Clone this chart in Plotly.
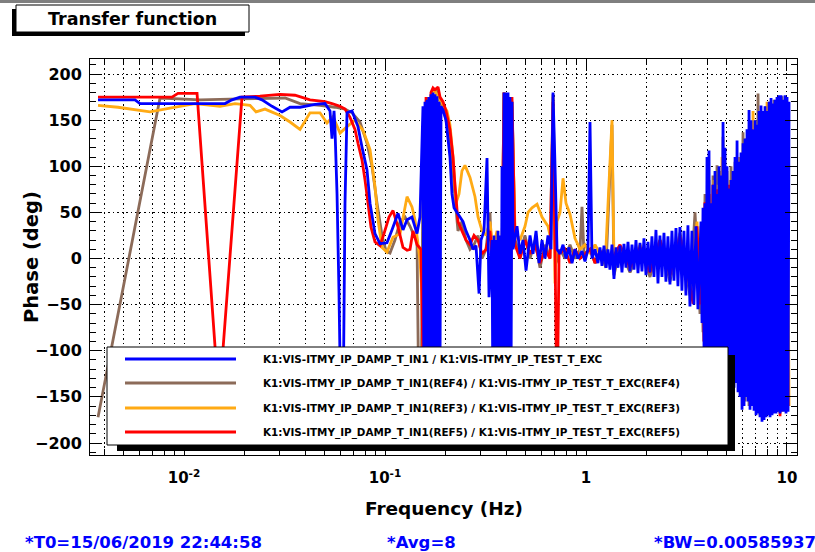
import plotly.graph_objects as go

# ---------------- data ----------------
BLUE_FREQ = [
    0.003734, 0.005705, 0.006041, 0.01201, 0.01600, 0.01733, 0.01899, 0.02255, 0.02444, 0.02741,
    0.03074, 0.03369, 0.03777, 0.04484, 0.05029, 0.05326, 0.05449, 0.05577, 0.05640, 0.05772,
    0.05904, 0.06041, 0.06181, 0.06324, 0.06471, 0.06853, 0.07338, 0.07682, 0.08138, 0.08423,
    0.08918, 0.09443, 0.1023, 0.1083, 0.1161, 0.1229, 0.1287, 0.1362, 0.1443, 0.1493,
    0.1545, 0.1564, 0.1581, 0.1600, 0.1618, 0.1636, 0.1655, 0.1674, 0.1693, 0.1713,
    0.1733, 0.1753, 0.1773, 0.1794, 0.1814, 0.1836, 0.1857, 0.1878, 0.1900,
    0.1943, 0.2011, 0.2057, 0.2105, 0.2154, 0.2205, 0.2282,
    0.2361, 0.2444, 0.2529, 0.2648, 0.2741, 0.2836, 0.2937, 0.3004, 0.3109, 0.3218,
    0.3292, 0.3407,
    0.3447, 0.3486, 0.3526, 0.3567, 0.3608, 0.3650, 0.3692, 0.3734, 0.3777, 0.3821,
    0.3865, 0.3910, 0.3954, 0.4000, 0.4046, 0.4093, 0.4140, 0.4187, 0.4236, 0.4284,
    0.4334, 0.4537, 0.4697, 0.4861, 0.5031, 0.5266, 0.5450, 0.5643,
    0.5840, 0.6041, 0.6253, 0.6471, 0.6699, 0.6854, 0.7013, 0.7176, 0.7427, 0.7686,
    0.7953, 0.8231, 0.8519, 0.8816, 0.9125, 0.9552, 0.9886, 1.023, 1.047, 1.071,
    1.109, 1.147,
    1.174, 1.201, 1.229, 1.258, 1.287, 1.316, 1.347, 1.378, 1.410, 1.443,
    1.476, 1.510, 1.545, 1.581, 1.618, 1.655, 1.694, 1.733, 1.773, 1.814,
    1.856, 1.899, 1.943, 1.988, 2.034, 2.081, 2.129, 2.179, 2.229, 2.281,
    2.333, 2.388, 2.443, 2.499, 2.557, 2.617, 2.677, 2.739, 2.803, 2.867,
    2.934, 3.002, 3.071, 3.142, 3.215, 3.290, 3.366, 3.444, 3.524, 3.605,
    3.735, 3.778, 3.821, 3.865, 3.910, 3.955, 4.000, 4.046, 4.093, 4.140,
    4.188, 4.236, 4.285, 4.334, 4.384, 4.435, 4.486, 4.538, 4.590, 4.643,
    4.697, 4.751, 4.806, 4.861, 4.917, 4.974, 5.031, 5.089, 5.148, 5.207,
    5.267, 5.328, 5.389, 5.452, 5.515, 5.578, 5.643, 5.708, 5.774, 5.840,
    5.907, 5.975, 6.044, 6.114, 6.184, 6.255, 6.327, 6.400, 6.474, 6.549,
    6.624, 6.700, 6.778, 6.856, 6.935, 7.015, 7.095, 7.177, 7.260, 7.343,
    7.428, 7.513, 7.600, 7.687, 7.776, 7.866, 7.956, 8.048, 8.141, 8.235,
    8.329, 8.425, 8.522, 8.621, 8.720, 8.820, 8.922, 9.025, 9.129, 9.234,
    9.340, 9.448, 9.557, 9.667, 9.778, 9.891, 10.005, 10.120, 10.237,
]
BLUE_PHASE = [
    172, 172, 168, 168, 168, 172, 175, 175, 172, 165,
    159, 164, 164, 167, 168, 160, 130, 160, 140, 70,
    -38, -178, -178, 60, 158, 160, 143, 121, 96, 60,
    27, 16, 17, 31, 49, 31, 42, 45, 27, 45,
    165, -178, 170, -178, 172, -178, 175, -178, 178, -178,
    180, -178, 178, -170, 176, -160, 170, -120, 165,
    161, 150, 130, 110, 70, 55, 50,
    45, 40, 30, 20, 10, 14, -38, 20, 30, 109,
    -42, 20,
    -178, 25, -178, 20, -178, 30, -178, 25, -178, 100,
    -178, 180, -178, 180, -178, 180, -178, 175, -150, 170,
    10, 35, 5, 20, -13, 25, 5, 30,
    -5, 20, 0, 25, 10, 180, 100, 10, 5, 15,
    0, 12, -5, 10, 0, 8, -3, 10, 148, 0,
    10, -5,
    12, -8, 14, -10, 10, -12, 15, -22, 12, -10,
    14, -15, 16, -10, 18, -14, 15, -12, 20, -16,
    17, -14, 22, -18, 18, -15, 24, -20, 31, -27,
    25, -20, 28, -25, 24, -28, 30, -24, 33, -30,
    34, -35, 30, -40, 36, -52, 30, -50, 35, -55,
    40, -70, 55, -96, 60, -150, 110, -150, 117, -150,
    60, -150, 80, -150, 95, -150, 70, -150, 100, -150,
    90, -150, 148, -150, 120, -150, 100, -150, 76, -150,
    85, -150, 95, -140, 110, -135, 128, -145, 105, -150,
    115, -164, 125, -160, 130, -150, 140, -155, 161, -164,
    150, -160, 140, -165, 150, -170, 145, -168, 160, -172,
    166, -177, 160, -175, 165, -172, 160, -170, 170, -172,
    174, -170, 168, -168, 172, -168, 175, -166, 177, -168,
    177, -166, 172, -166, 177, -168, 175, -166, 170,
]

BROWN_FREQ = [
    0.003734, 0.007597, 0.01201, 0.01899, 0.03181, 0.03777, 0.04749, 0.05640, 0.06324, 0.06853,
    0.07508, 0.08138, 0.08618, 0.09125, 0.09662, 0.1012, 0.1059, 0.1121, 0.1188, 0.1258,
    0.1332, 0.1394, 0.1443, 0.1476, 0.1511, 0.1545, 0.1581, 0.1618, 0.1674, 0.1733,
    0.1794, 0.1878, 0.1966, 0.2057, 0.2154, 0.2229, 0.2307, 0.2415, 0.2529, 0.2648,
    0.2772, 0.2903, 0.3039, 0.3181, 0.3330, 0.3447, 0.3567, 0.3734, 0.3910, 0.4093,
    0.4284, 0.4435, 0.4697, 0.4973, 0.5266, 0.5577, 0.5905, 0.6253, 0.6622, 0.6854,
    0.7095, 0.7427, 0.7863, 0.8326, 0.8816, 0.9335, 0.9552, 0.9773, 1.047, 1.109,
    1.174, 1.257, 1.347, 1.378, 1.476, 1.656, 1.857, 2.082, 2.334, 2.618,
    2.936, 3.292, 3.487, 3.692,
    3.735, 3.821, 3.910, 4.000, 4.093, 4.188, 4.285, 4.384, 4.486, 4.590,
    4.697, 4.751, 4.806, 4.917, 5.031, 5.148, 5.267, 5.389, 5.515, 5.643,
    5.774, 5.907, 6.044, 6.184, 6.327, 6.474, 6.624, 6.778, 6.935, 7.095,
    7.177, 7.343, 7.513, 7.687, 7.866, 8.048, 8.235, 8.425, 8.621, 8.820,
    9.025, 9.234, 9.448, 9.667, 9.891, 10.120,
]
BROWN_PHASE = [
    -172, 174, 172, 173, 174, 168, 166, 164, 162, 158,
    148, 125, 100, 60, 25, 8, 6, 20, 40, 45,
    35, 25, 20, -178, -178, 100, -178, 175, -100, 180,
    183, 170, 160, 140, 110, 66, 30, 40, 20, 10,
    15, 25, 0, 10, 50, -50, 20, -178, 180, -178,
    170, 20, 5, 25, 0, 20, -10, 15, 0, 178,
    -5, 10, 0, 15, 0, 10, 56, 5, 10, -5,
    8, -10, 145, -18, 10, -15, 12, -20, 20, -25,
    28, -40, 50, -60,
    35, -80, 70, -150, 85, -150, 90, -150, 101, -150,
    95, -92, 132, -150, 95, -150, 100, -140, 105, -130,
    110, -150, 137, -155, 120, -160, 140, -160, 150, -162,
    179, -170, 160, -172, 165, -168, 170, -168, 172, -166,
    174, -166, 176, -164, 175, -160,
]

ORANGE_FREQ = [
    0.003734, 0.004694, 0.006773, 0.008518, 0.01134, 0.01510, 0.01794, 0.02130, 0.02282, 0.02529,
    0.03004, 0.03369, 0.03777, 0.04235, 0.04749, 0.05145, 0.05513, 0.05973, 0.06471, 0.07091,
    0.07771, 0.08423, 0.08918, 0.09230, 0.09662, 0.1023, 0.1096, 0.1188, 0.1287, 0.1362,
    0.1410, 0.1493, 0.1528, 0.1564, 0.1600, 0.1636, 0.1693, 0.1753, 0.1814, 0.1878,
    0.1966, 0.2034, 0.2105, 0.2180, 0.2256, 0.2335, 0.2415, 0.2500, 0.2648, 0.2804,
    0.2903, 0.3039, 0.3181, 0.3330, 0.3447, 0.3608, 0.3777, 0.3910, 0.4093, 0.4284,
    0.4435, 0.4697, 0.4973, 0.5147, 0.5387, 0.5708, 0.6041, 0.6471, 0.6699, 0.6854,
    0.7013, 0.7176, 0.7427, 0.7686, 0.7953, 0.8326, 0.8816, 0.9335, 0.9886, 1.047,
    1.109, 1.174, 1.257, 1.347, 1.378, 1.476, 1.656, 1.857, 2.082, 2.334,
    2.618, 2.936, 3.292, 3.567, 3.692,
    3.778, 3.865, 3.955, 4.046, 4.140, 4.236, 4.334, 4.435, 4.538, 4.643,
    4.751, 4.861, 4.974, 5.089, 5.207, 5.328, 5.452, 5.578, 5.708, 5.840,
    5.975, 6.114, 6.255, 6.400, 6.549, 6.700, 6.778, 6.935, 7.095, 7.260,
    7.428, 7.600, 7.776, 7.866, 7.956, 8.141, 8.329, 8.522, 8.720, 8.922,
    9.129, 9.340, 9.448, 9.667, 9.778, 10.005, 10.237,
]
ORANGE_PHASE = [
    166, 164, 159, 163, 168, 165, 168, 166, 159, 162,
    155, 148, 140, 158, 158, 147, 154, 136, 143, 150,
    139, 118, 78, 42, 12, 7, 23, 27, 67, 56,
    42, -2, -38, -178, 160, -178, 176, 183, 178, 172,
    165, 160, 145, 110, 60, 70, 95, 101, 88, 67,
    45, 30, 25, 40, 10, 30, -100, 180, -178, 165,
    30, 20, 35, 50, 55, 59, 45, 35, 20, 175,
    -27, 40, 50, 87, 60, 48, 22, 10, 15, 5,
    15, 5, 12, 150, 0, 10, -10, 15, -15, 20,
    -20, 25, -35, 40, -50,
    30, -90, 60, -150, 70, -150, 85, -150, 80, -150,
    110, -150, 90, -150, 85, -140, 95, -130, 110, -139,
    100, -145, 130, -139, 140, -157, 160, -157, 126, -157,
    150, -170, 160, -165, 170, -165, 165, -160, 168, -165,
    170, 172, -166, 168, -164, 170, -160,
]

RED_FREQ = [
    0.003734, 0.008715, 0.009335, 0.01161, 0.01493, 0.01943, 0.02388, 0.03004, 0.03566, 0.04235,
    0.05029, 0.05449, 0.05973, 0.06324, 0.06698, 0.07091, 0.07338, 0.07682, 0.07953, 0.08229,
    0.08518, 0.08918, 0.09443, 0.09886, 0.1047, 0.1096, 0.1161, 0.1229, 0.1287, 0.1332,
    0.1378, 0.1443, 0.1511, 0.1564, 0.1600, 0.1636, 0.1693, 0.1733, 0.1773, 0.1836,
    0.1878, 0.1943, 0.2011, 0.2105, 0.2180, 0.2229, 0.2307, 0.2415, 0.2529, 0.2648,
    0.2772, 0.2903, 0.3039, 0.3181, 0.3330, 0.3486, 0.3608, 0.3734, 0.3910, 0.4093,
    0.4187, 0.4284, 0.4435, 0.4697, 0.4973, 0.5266, 0.5577, 0.5905, 0.6253, 0.6622,
    0.6854, 0.7013, 0.7176, 0.7343, 0.7863, 0.8326, 0.8816, 0.9335, 1.047, 1.109,
    1.174, 1.316, 1.476, 1.656, 1.857, 2.082, 2.334, 2.618, 2.936, 3.292,
    3.408, 3.567, 3.692,
    3.778, 3.865, 3.910, 4.000, 4.093, 4.188, 4.285, 4.384, 4.486, 4.590,
    4.697, 4.806, 4.917, 5.031, 5.148, 5.267, 5.389, 5.515, 5.643, 5.774,
    5.840, 5.975, 6.114, 6.255, 6.400, 6.549, 6.700, 6.856, 7.015, 7.177,
    7.343, 7.513, 7.687, 7.866, 8.048, 8.235, 8.425, 8.621, 8.922, 9.234,
    9.448, 9.667, 9.891, 10.120,
]
RED_PHASE = [
    175, 175, 179, 179, -156, 175, 176, 178, 177, 172,
    170, 168, 165, 162, 153, 140, 125, 107, 85, 60,
    34, 18, 14, 27, 45, 52, 34, 12, 9, 10,
    30, 15, 10, -178, 175, -150, 180, 185, 183, 186,
    175, 170, 160, 140, 110, 80, 40, 30, 20, 15,
    25, 20, 5, 10, 30, -20, 20, -178, 180, -178,
    -178, 175, 15, 0, 20, 5, 15, -5, 10, 0,
    170, 10, -178, 5, 10, -5, 10, 0, 10, -5,
    8, -5, 15, -10, 12, -15, 20, -18, 24, -30,
    -49, 35, -50,
    35, -90, 61, -150, 70, -150, 80, -150, 75, -150,
    85, -150, 90, -150, 80, -140, 80, -130, 90, -140,
    77, -150, 110, -150, 120, -155, 140, -160, 135, -165,
    150, -170, 155, -168, 160, -168, 165, -165, 172, -171,
    165, -165, 170, -160,
]

LEGEND_LABELS = [
    "K1:VIS-ITMY_IP_DAMP_T_IN1 / K1:VIS-ITMY_IP_TEST_T_EXC",
    "K1:VIS-ITMY_IP_DAMP_T_IN1(REF4) / K1:VIS-ITMY_IP_TEST_T_EXC(REF4)",
    "K1:VIS-ITMY_IP_DAMP_T_IN1(REF3) / K1:VIS-ITMY_IP_TEST_T_EXC(REF3)",
    "K1:VIS-ITMY_IP_DAMP_T_IN1(REF5) / K1:VIS-ITMY_IP_TEST_T_EXC(REF5)",
]
COLORS = ["#0000ff", "#8c6b59", "#ffaa14", "#ff0000"]

X_TICKS = [0.01, 0.1, 1, 10]
X_TICK_TEXT = ["10<sup>-2</sup>", "10<sup>-1</sup>", "1", "10"]
X_MINOR = [0.004, 0.005, 0.006, 0.007, 0.008, 0.009,
           0.02, 0.03, 0.04, 0.05, 0.06, 0.07, 0.08, 0.09,
           0.2, 0.3, 0.4, 0.5, 0.6, 0.7, 0.8, 0.9,
           2, 3, 4, 5, 6, 7, 8, 9]

TITLE = "Transfer function"
X_TITLE = "Frequency (Hz)"
Y_TITLE = "Phase (deg)"
INFO = ["*T0=15/06/2019 22:44:58", "*Avg=8", "*BW=0.00585937"]

# ---------------- figure ----------------
W, H = 815, 552
L, R, T, B = 90, 797, 59, 455


def px(x):
    return (x - L) / (R - L)


def py(y):
    return (B - y) / (B - T)


FONT = "DejaVu Sans"
fig = go.Figure()

series = [
    (BROWN_FREQ, BROWN_PHASE, COLORS[1]),
    (ORANGE_FREQ, ORANGE_PHASE, COLORS[2]),
    (RED_FREQ, RED_PHASE, COLORS[3]),
    (BLUE_FREQ, BLUE_PHASE, COLORS[0]),
]
for f, p, c in series:
    fig.add_trace(go.Scatter(x=f, y=p, mode="lines",
                             line=dict(color=c, width=2.8, simplify=False),
                             showlegend=False, hoverinfo="skip"))

dash = "1.5px,3px"
fig.update_xaxes(
    type="log", range=[-2.4677, 1.0498],
    tickmode="array", tickvals=X_TICKS, ticktext=X_TICK_TEXT,
    ticks="inside", ticklen=12, tickwidth=1, tickcolor="black",
    showline=True, linecolor="black", linewidth=1, mirror="allticks",
    showgrid=True, gridcolor="black", gridwidth=1, griddash=dash,
    minor=dict(tickmode="array", tickvals=X_MINOR, ticks="inside", ticklen=6,
               tickcolor="black", tickwidth=1, showgrid=True,
               gridcolor="black", gridwidth=1, griddash=dash),
    tickfont=dict(family=FONT, size=15, color="black", weight="bold"),
    ticklabelstandoff=9, zeroline=False,
)
fig.update_yaxes(
    range=[-213, 216.3], tickmode="linear", tick0=0, dtick=50,
    ticks="inside", ticklen=12, tickwidth=1, tickcolor="black",
    showline=True, linecolor="black", linewidth=1, mirror="allticks",
    showgrid=True, gridcolor="black", gridwidth=1, griddash=dash,
    minor=dict(dtick=10, ticks="inside", ticklen=6, tickcolor="black",
               tickwidth=1, showgrid=False),
    tickfont=dict(family=FONT, size=16, color="black", weight="bold"),
    ticklabelstandoff=4, zeroline=False,
)

shapes = []
# top grey strip of the canvas
shapes.append(dict(type="rect", xref="paper", yref="paper",
                   x0=px(-5), x1=px(W + 5), y0=py(0), y1=py(3),
                   fillcolor="#7f7f7f", line=dict(width=0), layer="above"))
# title box with shadow
shapes.append(dict(type="rect", xref="paper", yref="paper",
                   x0=px(12), x1=px(245), y0=py(9), y1=py(36),
                   fillcolor="black", line=dict(width=0), layer="above"))
shapes.append(dict(type="rect", xref="paper", yref="paper",
                   x0=px(16), x1=px(249), y0=py(5), y1=py(32),
                   fillcolor="white", line=dict(color="black", width=1), layer="above"))
# legend box with shadow
shapes.append(dict(type="rect", xref="paper", yref="paper",
                   x0=px(117), x1=px(735), y0=py(355), y1=py(451),
                   fillcolor="black", line=dict(width=0), layer="above"))
shapes.append(dict(type="rect", xref="paper", yref="paper",
                   x0=px(107), x1=px(728), y0=py(347), y1=py(445),
                   fillcolor="white", line=dict(color="black", width=1), layer="above"))

rows_y = [359, 383, 408, 432]
annotations = []
for label, c, ry in zip(LEGEND_LABELS, COLORS, rows_y):
    shapes.append(dict(type="line", xref="paper", yref="paper",
                       x0=px(125), x1=px(236), y0=py(ry), y1=py(ry),
                       line=dict(color=c, width=3), layer="above"))
    annotations.append(dict(xref="paper", yref="paper", x=px(261), y=py(ry),
                            text=label, showarrow=False, xanchor="left", yanchor="middle",
                            font=dict(family=FONT, size=10.4, color="black", weight="bold")))

annotations.append(dict(xref="paper", yref="paper", x=px(132), y=py(19), text=TITLE,
                        showarrow=False, xanchor="center", yanchor="middle",
                        font=dict(family=FONT, size=17.5, color="black", weight="bold")))
annotations.append(dict(xref="paper", yref="paper", x=px(443.5), y=py(508), text=X_TITLE,
                        showarrow=False, xanchor="center", yanchor="middle",
                        font=dict(family=FONT, size=18.5, color="black", weight="bold")))
annotations.append(dict(xref="paper", yref="paper", x=px(31), y=py(257), text=Y_TITLE,
                        textangle=-90, showarrow=False, xanchor="center", yanchor="middle",
                        font=dict(family=FONT, size=19.5, color="black", weight="bold")))
for txt, xl in zip(INFO, [23, 385, 652]):
    annotations.append(dict(xref="paper", yref="paper", x=px(xl), y=py(542), text=txt,
                            showarrow=False, xanchor="left", yanchor="middle",
                            font=dict(family=FONT, size=16.5, color="#0000ff", weight="bold")))

fig.update_layout(
    width=W, height=H, autosize=False,
    margin=dict(l=L, r=W - R, t=T, b=H - B, pad=0),
    paper_bgcolor="white", plot_bgcolor="white",
    shapes=shapes, annotations=annotations, showlegend=False,
)

fig.write_html("out.html", config={"displayModeBar": False},
               post_script="document.body.style.margin='0px';document.body.style.overflow='hidden';")
